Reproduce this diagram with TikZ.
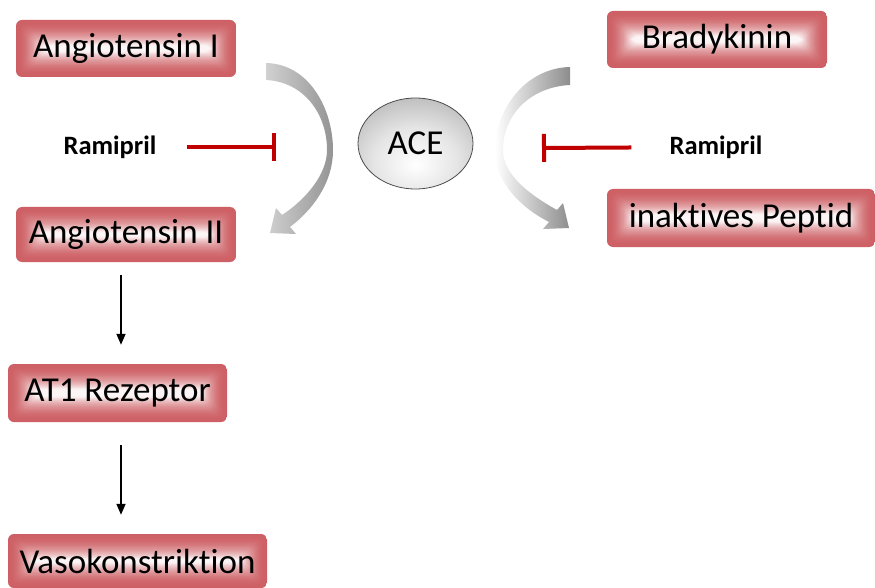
\documentclass[tikz,border=0pt]{standalone}
\usepackage{fontspec}
\setmainfont{Carlito}[Ligatures=NoCommon]
\usetikzlibrary{arrows.meta,calc,shapes.geometric}
\definecolor{boxred}{RGB}{205,95,100}
\definecolor{inhibred}{RGB}{192,0,0}
\pgfdeclareradialshading{aceshade}{\pgfpoint{0bp}{-12bp}}{color(0bp)=(white); color(18bp)=(white!90!black); color(50bp)=(black!42); color(90bp)=(black!42)}

\tikzset{
  molbox/.style={rounded corners=6pt, inner sep=0pt, minimum height=57pt,
    font=\fontsize{35}{40}\selectfont,
    path picture={%
      \foreach \k [evaluate=\k as \c using int(100-94*(\k/23)^2)] in {0,...,23}{%
        \fill[boxred!\c!white, rounded corners=6pt]
          ($(path picture bounding box.south west)+(\k*1.1pt,\k*1.1pt)$) rectangle
          ($(path picture bounding box.north east)-(\k*1.1pt,\k*1.1pt)$);
      }
    }},
  enzyme/.style={ellipse, draw=black!70, line width=0.8pt, inner sep=0pt,
    minimum width=115pt, minimum height=91pt, shading=aceshade,
    font=\fontsize{35}{40}\selectfont},
  drug/.style={inner sep=2pt, font=\fontsize{26.5}{30}\selectfont\bfseries},
  flow/.style={line width=1.5pt, -{Triangle[width=9pt,length=11pt]}},
  inhib/.style={inhibred, line width=4pt, -{Bar[width=28pt]}},
}

\begin{document}
\begin{tikzpicture}[x=1pt,y=-1pt]
    \useasboundingbox (0,0) rectangle (875,588);

    % left column: renin-angiotensin chain
    \node[molbox, minimum width=220pt] (ang1) at (126,48.5) {Angiotensin I};
    \node[molbox, minimum width=220pt, minimum height=55pt] (ang2) at (126,234.5) {Angiotensin II};
    \node[molbox, minimum width=219pt, minimum height=58pt] (at1) at (117.5,393) {AT1 Rezeptor};
    \node[molbox, minimum width=259pt, minimum height=54pt] (vaso) at (137.5,561) {Vasokonstriktion};

    % right column: kinin breakdown
    \node[molbox, minimum width=220pt] (brady) at (717,39.5) {Bradykinin};
    \node[molbox, minimum width=268pt, minimum height=58pt] (inakt) at (741,218) {inaktives Peptid};

    \node[enzyme] (ace) at (415.5,143.5) {ACE};

    \node[drug] (ramL) at (110,147) {Ramipril};
    \node[drug] (ramR) at (716,147) {Ramipril};
    \coordinate (blockL) at (276,147);
    \coordinate (blockR) at (542,148);

    % curved conversion arrows
    \shade[left color=black!18, right color=black!42]
      (266,63) .. controls (310,64) and (333,110) .. (333,150)
      .. controls (333,185) and (310,212) .. (290,227)
      -- (296,234) -- (270,233) -- (276,208) -- (282,215)
      .. controls (305,200) and (327,175) .. (327,150)
      .. controls (327,115) and (305,82) .. (266,80) -- cycle;
    \shade[left color=white, right color=black!45]
      (570,67) .. controls (525,68) and (495,110) .. (495,150)
      .. controls (495,185) and (525,210) .. (549,222)
      -- (543,229) -- (569,228) -- (563,203) -- (557,210)
      .. controls (530,195) and (503,175) .. (503,150)
      .. controls (503,115) and (530,87) .. (570,85) -- cycle;

    \draw[inhib, shorten <=28pt] (ramL) -- (blockL);
    \draw[inhib, shorten <=36pt] (ramR) -- (blockR);

    \draw[flow, shorten <=13pt, shorten >=19pt] ([xshift=-5pt]ang2.south) -- ([xshift=3.5pt]at1.north);
    \draw[flow, shorten <=23pt, shorten >=19pt] ([xshift=3.5pt]at1.south) -- ([xshift=-16.5pt]vaso.north);

\end{tikzpicture}
\end{document}
